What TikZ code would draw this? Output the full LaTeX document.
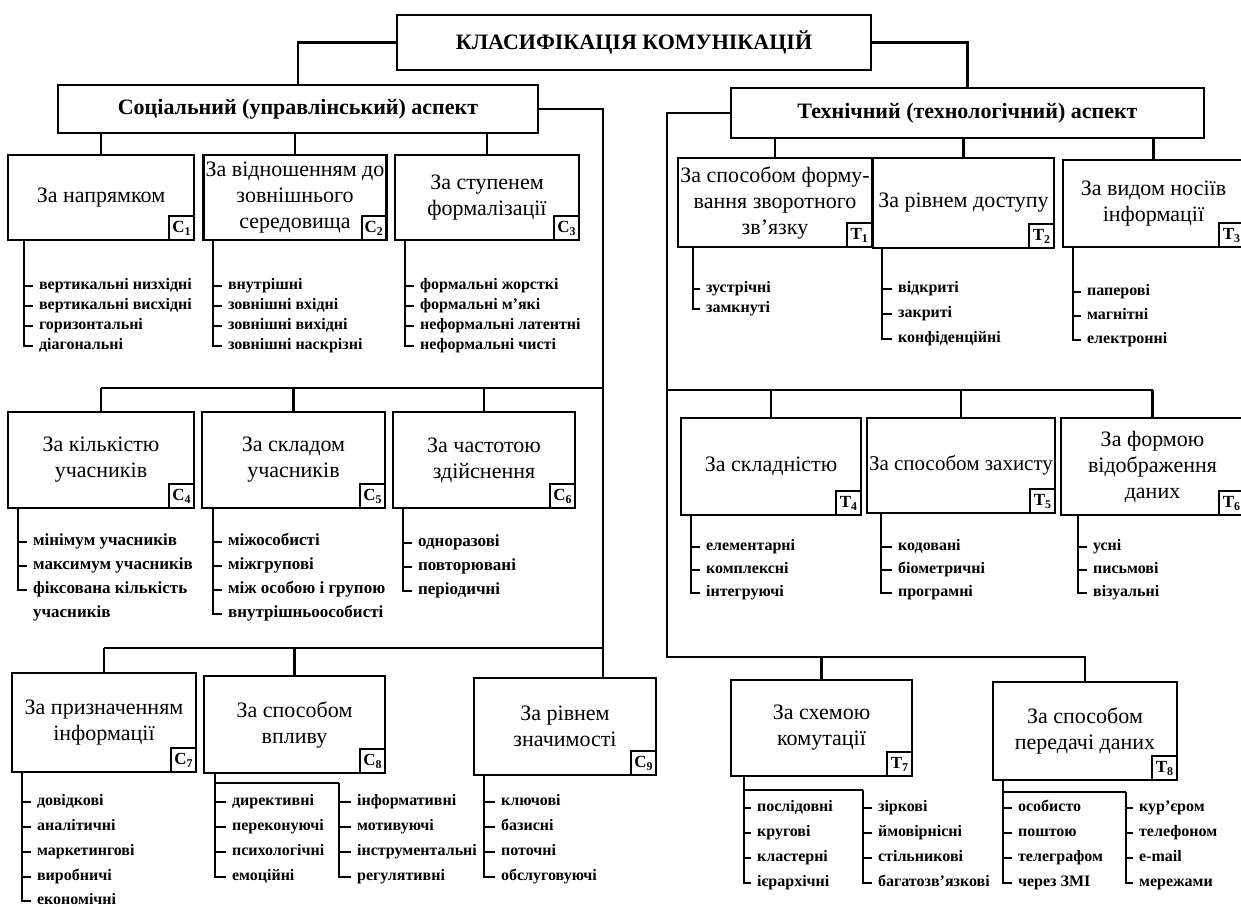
\documentclass[tikz,border=0pt]{standalone}
\usepackage{fontspec}
\setmainfont{Liberation Serif}
\begin{document}
\begin{tikzpicture}[x=1pt,y=-1pt,
  line width=2.2pt, line join=miter,
  box/.style={draw, line width=2.4pt, inner sep=2pt, align=center,
    font=\fontsize{22}{26}\selectfont},
  head/.style={draw, line width=2.4pt, inner sep=2pt,
    font=\bfseries\fontsize{22}{26}\selectfont},
  lbl/.style={draw, line width=2pt, minimum width=25pt, minimum height=24pt,
    inner sep=0pt, anchor=south east, font=\bfseries\fontsize{17}{17}\selectfont},
  itm/.style={anchor=west, inner xsep=5pt, inner ysep=0pt,
    text height=11pt, text depth=4pt,
    font=\bfseries\fontsize{16}{18}\selectfont},
  bigitm/.style={itm, font=\bfseries\fontsize{17}{19}\selectfont},
  wire/.style={line width=2.2pt},
]
% page and background
\fill[white] (0,0) rectangle (1241,906);
\useasboundingbox (0,0) rectangle (1241,906);

% box: name, x1, y1, x2, y2, title, index
\newcommand\catbox[7]{%
  \node[box, minimum width={(#4-#2)*1pt}, minimum height={(#5-#3)*1pt}]
    (#1) at ({(#2+#4)/2},{(#3+#5)/2}) {#6};
  \node[lbl] (#1l) at (#1.south east) {#7};}
% item: name, x, y, text
\newcommand\itm[4]{\node[itm] (#1) at (#2,#3) {#4};}
\newcommand\bitm[4]{\node[bigitm] (#1) at (#2,#3) {#4};}

% ---------- headers ----------
\node[head, minimum width=474pt, minimum height=55pt] (top) at (634,42.5) {КЛАСИФІКАЦІЯ КОМУНІКАЦІЙ};
\node[head, minimum width=480pt, minimum height=48pt] (soc) at (298,109) {Соціальний (управлінський) аспект};
\node[head, minimum width=473pt, minimum height=50pt] (tech) at (967.5,113) {Технічний (технологічний) аспект};

\draw[wire] (top.west) -| (soc.north);
\draw[wire] (top.east) -| (tech.north);

% ---------- social categories ----------
\catbox{c1}{8}{155}{194}{240}{За напрямком}{С\textsubscript{1}}
\catbox{c2}{205}{155}{385}{240}{За відношенням до\\зовнішнього\\середовища}{С\textsubscript{2}}
\catbox{c3}{395}{155}{579}{240}{За ступенем\\формалізації}{С\textsubscript{3}}
\catbox{c4}{8}{412}{194}{508}{За кількістю\\учасників}{С\textsubscript{4}}
\catbox{c5}{202}{412}{385}{508}{За складом\\учасників}{С\textsubscript{5}}
\catbox{c6}{393}{412}{575}{508}{За частотою\\здійснення}{С\textsubscript{6}}
\catbox{c7}{12}{673}{196}{772}{За призначенням\\інформації}{С\textsubscript{7}}
\catbox{c8}{204}{676}{385}{773}{За способом\\впливу}{С\textsubscript{8}}
\catbox{c9}{474}{678}{656}{775}{За рівнем\\значимості}{С\textsubscript{9}}

% social buses
\coordinate (sv) at (603,0);
\coordinate (r2) at (0,388);
\coordinate (r3) at (0,648);
\draw[wire] (soc.east) -| (sv |- c9.north);
\foreach \n in {c1,c2,c3}{\draw[wire] (\n.north |- soc.south) -- (\n.north);}
\draw[wire] (r2 -| c4.north) -- (r2 -| sv);
\foreach \n in {c4,c5,c6}{\draw[wire] (r2 -| \n.north) -- (\n.north);}
\draw[wire] (r3 -| c7.north) -- (r3 -| sv);
\foreach \n in {c7,c8}{\draw[wire] (r3 -| \n.north) -- (\n.north);}

% ---------- technical categories ----------
\catbox{t1}{685}{158}{865}{247}{За способом форму-\\вання зворотного\\зв’язку}{Т\textsubscript{1}}
\catbox{t2}{873}{158}{1054}{248}{За рівнем доступу}{Т\textsubscript{2}}
\catbox{t3}{1063}{160}{1244}{247}{За видом носіїв\\інформації}{Т\textsubscript{3}}
\catbox{t4}{681}{418}{861}{515}{За складністю}{Т\textsubscript{4}}
\catbox{t5}{871}{418}{1051}{513}{\fontsize{21}{25}\selectfont За способом захисту}{Т\textsubscript{5}}
\catbox{t6}{1061}{418}{1244}{515}{За формою\\відображення\\даних}{Т\textsubscript{6}}
\catbox{t7}{731}{680}{912}{776}{За схемою\\комутації}{Т\textsubscript{7}}
\catbox{t8}{993}{682}{1177}{780}{За способом\\передачі даних}{Т\textsubscript{8}}

% technical buses
\coordinate (tv) at (667,0);
\coordinate (r5) at (0,390);
\coordinate (r6) at (0,657);
\draw[wire] (tech.west) -| (tv |- r6) -- (r6 -| t8.north) -- (t8.north);
\foreach \n in {t1,t2,t3}{\draw[wire] (\n.north |- tech.south) -- (\n.north);}
\draw[wire] (r5 -| tv) -- (r5 -| t6.north);
\foreach \n in {t4,t5,t6}{\draw[wire] (r5 -| \n.north) -- (\n.north);}
\draw[wire] (r6 -| t7.north) -- (t7.north);

% ---------- items: social ----------
\coordinate (c1b) at (24,0);
\itm{c1a}{33}{286}{вертикальні низхідні}
\itm{c1c}{33}{306}{вертикальні висхідні}
\itm{c1d}{33}{326}{горизонтальні}
\itm{c1e}{33}{346}{діагональні}
\foreach \n in {c1a,c1c,c1d,c1e}{\draw[wire] (c1.south -| c1b) |- (\n.west);}

\coordinate (c2b) at (213,0);
\itm{c2a}{222}{286}{внутрішні}
\itm{c2c}{222}{306}{зовнішні вхідні}
\itm{c2d}{222}{326}{зовнішні вихідні}
\itm{c2e}{222}{346}{зовнішні наскрізні}
\foreach \n in {c2a,c2c,c2d,c2e}{\draw[wire] (c2.south -| c2b) |- (\n.west);}

\coordinate (c3b) at (405,0);
\itm{c3a}{414}{286}{формальні жорсткі}
\itm{c3c}{414}{306}{формальні м’які}
\itm{c3d}{414}{326}{неформальні латентні}
\itm{c3e}{414}{346}{неформальні чисті}
\foreach \n in {c3a,c3c,c3d,c3e}{\draw[wire] (c3.south -| c3b) |- (\n.west);}

\coordinate (c4b) at (18,0);
\bitm{c4a}{27}{542}{мінімум учасників}
\bitm{c4c}{27}{566}{максимум учасників}
\bitm{c4d}{27}{590}{фіксована кількість}
\node[bigitm] (c4e) at (27,614) {учасників};
\foreach \n in {c4a,c4c,c4d}{\draw[wire] (c4.south -| c4b) |- (\n.west);}

\coordinate (c5b) at (213,0);
\bitm{c5a}{222}{542}{міжособисті}
\bitm{c5c}{222}{566}{міжгрупові}
\bitm{c5d}{222}{590}{між особою і групою}
\bitm{c5e}{222}{614}{внутрішньоособисті}
\foreach \n in {c5a,c5c,c5d,c5e}{\draw[wire] (c5.south -| c5b) |- (\n.west);}

\coordinate (c6b) at (403,0);
\bitm{c6a}{412}{543}{одноразові}
\bitm{c6c}{412}{567}{повторювані}
\bitm{c6d}{412}{591}{періодичні}
\foreach \n in {c6a,c6c,c6d}{\draw[wire] (c6.south -| c6b) |- (\n.west);}

\coordinate (c7b) at (22,0);
\itm{c7a}{31}{802}{довідкові}
\itm{c7c}{31}{827}{аналітичні}
\itm{c7d}{31}{852}{маркетингові}
\itm{c7e}{31}{877}{виробничі}
\itm{c7f}{31}{901}{економічні}
\foreach \n in {c7a,c7c,c7d,c7e,c7f}{\draw[wire] (c7.south -| c7b) |- (\n.west);}

\coordinate (c8b) at (215,0);
\coordinate (c8r) at (339,0);
\coordinate (c8h) at (0,783);
\itm{c8a}{226}{802}{директивні}
\itm{c8c}{226}{827}{переконуючі}
\itm{c8d}{226}{852}{психологічні}
\itm{c8e}{226}{877}{емоційні}
\itm{c8f}{351}{802}{інформативні}
\itm{c8g}{351}{827}{мотивуючі}
\itm{c8i}{351}{852}{інструментальні}
\itm{c8j}{351}{877}{регулятивні}
\foreach \n in {c8a,c8c,c8d,c8e}{\draw[wire] (c8.south -| c8b) |- (\n.west);}
\draw[wire] (c8h -| c8b) -- (c8h -| c8r);
\foreach \n in {c8f,c8g,c8i,c8j}{\draw[wire] (c8h -| c8r) |- (\n.west);}

\coordinate (c9b) at (484,0);
\itm{c9a}{495}{802}{ключові}
\itm{c9c}{495}{827}{базисні}
\itm{c9d}{495}{852}{поточні}
\itm{c9e}{495}{877}{обслуговуючі}
\foreach \n in {c9a,c9c,c9d,c9e}{\draw[wire] (c9.south -| c9b) |- (\n.west);}

% ---------- items: technical ----------
\coordinate (t1b) at (693,0);
\itm{t1a}{700}{289}{зустрічні}
\itm{t1c}{700}{309}{замкнуті}
\foreach \n in {t1a,t1c}{\draw[wire] (t1.south -| t1b) |- (\n.west);}

\coordinate (t2b) at (882,0);
\itm{t2a}{892}{289}{відкриті}
\itm{t2c}{892}{314}{закриті}
\itm{t2d}{892}{339}{конфіденційні}
\foreach \n in {t2a,t2c,t2d}{\draw[wire] (t2.south -| t2b) |- (\n.west);}

\coordinate (t3b) at (1073,0);
\itm{t3a}{1081}{292}{паперові}
\itm{t3c}{1081}{316}{магнітні}
\itm{t3d}{1081}{340}{електронні}
\foreach \n in {t3a,t3c,t3d}{\draw[wire] (t3.south -| t3b) |- (\n.west);}

\coordinate (t4b) at (691,0);
\itm{t4a}{700}{547}{елементарні}
\itm{t4c}{700}{570}{комплексні}
\itm{t4d}{700}{593}{інтегруючі}
\foreach \n in {t4a,t4c,t4d}{\draw[wire] (t4.south -| t4b) |- (\n.west);}

\coordinate (t5b) at (881,0);
\itm{t5a}{892}{547}{кодовані}
\itm{t5c}{892}{570}{біометричні}
\itm{t5d}{892}{593}{програмні}
\foreach \n in {t5a,t5c,t5d}{\draw[wire] (t5.south -| t5b) |- (\n.west);}

\coordinate (t6b) at (1078,0);
\itm{t6a}{1087}{547}{усні}
\itm{t6c}{1087}{570}{письмові}
\itm{t6d}{1087}{593}{візуальні}
\foreach \n in {t6a,t6c,t6d}{\draw[wire] (t6.south -| t6b) |- (\n.west);}

\coordinate (t7b) at (744,0);
\coordinate (t7r) at (863,0);
\coordinate (t7h) at (0,790);
\itm{t7a}{751}{808}{послідовні}
\itm{t7c}{751}{833}{кругові}
\itm{t7d}{751}{858}{кластерні}
\itm{t7e}{751}{883}{ієрархічні}
\itm{t7f}{872}{808}{зіркові}
\itm{t7g}{872}{833}{ймовірнісні}
\itm{t7i}{872}{858}{стільникові}
\itm{t7j}{872}{883}{багатозв’язкові}
\foreach \n in {t7a,t7c,t7d,t7e}{\draw[wire] (t7.south -| t7b) |- (\n.west);}
\draw[wire] (t7h -| t7b) -- (t7h -| t7r);
\foreach \n in {t7f,t7g,t7i,t7j}{\draw[wire] (t7h -| t7r) |- (\n.west);}

\coordinate (t8b) at (1003,0);
\coordinate (t8r) at (1126,0);
\coordinate (t8h) at (0,792);
\itm{t8a}{1012}{808}{особисто}
\itm{t8c}{1012}{833}{поштою}
\itm{t8d}{1012}{858}{телеграфом}
\itm{t8e}{1012}{883}{через ЗМІ}
\itm{t8f}{1133}{808}{кур’єром}
\itm{t8g}{1133}{833}{телефоном}
\itm{t8i}{1133}{858}{e-mail}
\itm{t8j}{1133}{883}{мережами}
\foreach \n in {t8a,t8c,t8d,t8e}{\draw[wire] (t8.south -| t8b) |- (\n.west);}
\draw[wire] (t8h -| t8b) -- (t8h -| t8r);
\foreach \n in {t8f,t8g,t8i,t8j}{\draw[wire] (t8h -| t8r) |- (\n.west);}
\end{tikzpicture}
\end{document}
